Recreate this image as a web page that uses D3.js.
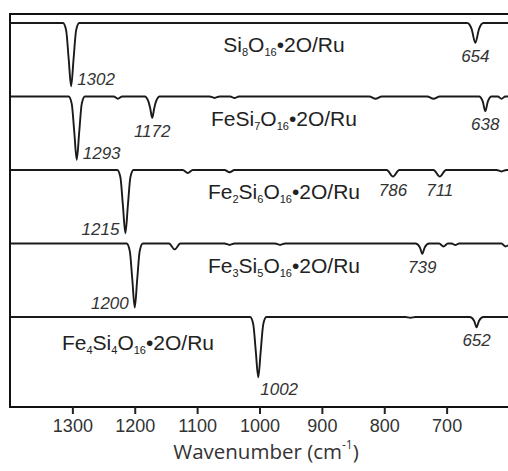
<!DOCTYPE html>
<html>
<head>
<meta charset="utf-8">
<script src="https://cdn.jsdelivr.net/npm/d3@7"></script>
<style>
  body { margin: 0; background: #fff; }
  svg { display: block; }
  .axis text { font-family: "Liberation Sans", Arial, sans-serif; font-size: 18px; fill: #333; }
  .axis line { stroke: #222; stroke-width: 2; }
  .compound { font-family: "Liberation Sans", Arial, sans-serif; font-size: 21px; fill: #222; }
  .peak-label { font-family: "Liberation Sans", Arial, sans-serif; font-size: 17px; font-style: italic; fill: #333; }
  .spectrum { fill: none; stroke: #1a1a1a; stroke-width: 1.9; }
</style>
</head>
<body>
<div id="chart"></div>
<script>
// Tick values on the wavenumber axis
const wavenumberTicks = [1300, 1200, 1100, 1000, 900, 800, 700];

// Compound names, "_n" marks a subscript
const compounds = [
    "Si_8O_16•2O/Ru",
    "FeSi_7O_16•2O/Ru",
    "Fe_2Si_6O_16•2O/Ru",
    "Fe_3Si_5O_16•2O/Ru",
    "Fe_4Si_4O_16•2O/Ru"
];

// Spectra: [wavenumber (cm-1), dip depth (arb. units)], top panel first
const si8Spectrum = [
    [1400, 0], [1315, 0], [1310, 10], [1306, 48], [1302, 86], [1298, 48], [1294, 10], [1289, 0],
    [667, 0], [660, 8], [654, 27], [648, 8], [641, 0], [600, 0]
];
const fe1Spectrum = [
    [1400, 0], [1306, 0], [1301, 10], [1297, 48], [1293, 86], [1289, 48], [1285, 10], [1280, 0],
    [1234, 0], [1227, 3], [1220, 0],
    [1184, 0], [1178, 7], [1175, 17], [1172, 29], [1169, 17], [1166, 7], [1160, 0],
    [1080, 0], [1072, 2], [1064, 0], [1047, 0], [1040, 2], [1033, 0],
    [824, 0], [814, 3], [804, 0], [731, 0], [721, 3], [711, 0],
    [648, 0], [642, 7], [638, 20], [634, 7], [628, 0],
    [618, 0], [612, 3], [606, 0], [600, 0]
];
const fe2Spectrum = [
    [1400, 0], [1228, 0], [1223, 10], [1219, 48], [1215, 86], [1211, 48], [1207, 10], [1202, 0],
    [1123, 0], [1115, 4], [1107, 0], [1056, 0], [1048, 3], [1040, 0],
    [796, 0], [786, 9], [776, 0], [721, 0], [711, 9], [701, 0],
    [620, 0], [612, 2], [604, 0], [600, 0]
];
const fe3Spectrum = [
    [1400, 0], [1213, 0], [1208, 10], [1204, 48], [1200, 87], [1196, 48], [1192, 10], [1187, 0],
    [1145, 0], [1136, 8], [1127, 0], [1056, 0], [1048, 2], [1040, 0], [975, 0], [967, 2], [959, 0],
    [750, 0], [743, 5], [739, 14], [735, 5], [728, 0],
    [712, 0], [705, 4], [698, 0], [692, 0], [686, 2], [680, 0],
    [612, 0], [606, 4], [600, 2]
];
const fe4Spectrum = [
    [1400, 0], [1015, 0], [1010, 10], [1006, 46], [1002, 82], [998, 46], [994, 10], [989, 0],
    [766, 0], [758, 1], [750, 0],
    [663, 0], [656, 5], [652, 14], [648, 5], [641, 0], [600, 0]
];
const spectra = [si8Spectrum, fe1Spectrum, fe2Spectrum, fe3Spectrum, fe4Spectrum];

// Peak annotations: [panel index, wavenumber, side of the label]
const peakLabels = [
    [0, 1302, "right"], [0, 654, "below"],
    [1, 1293, "right"], [1, 1172, "below"], [1, 638, "below"],
    [2, 1215, "left"], [2, 786, "below"], [2, 711, "below"],
    [3, 1200, "left"], [3, 739, "below"],
    [4, 1002, "belowRight"], [4, 652, "below"]
];

const width = 508, height = 471;
const frame = { left: 10, top: 14, right: 509, bottom: 407 };

const svg = d3.select('#chart').append('svg')
    .attr('width', width)
    .attr('height', height);

// Scales
const x = d3.scaleLinear()
    .domain([1400, 600])
    .range([frame.left, frame.right]);

const panelY = d3.scalePoint()
    .domain(d3.range(compounds.length))
    .range([23, 317]);

const depth = d3.scaleLinear()
    .domain([0, 100])
    .range([0, 73.5]);

// Spectra
spectra.forEach((pts, i) => {
    const line = d3.line()
        .x(d => x(d[0]))
        .y(d => panelY(i) + depth(d[1]))
        .curve(d3.curveMonotoneX);
    svg.append('path')
        .attr('class', 'spectrum')
        .attr('d', line(pts));
});

// Frame (right edge falls outside the picture)
svg.append('rect')
    .attr('x', frame.left)
    .attr('y', frame.top)
    .attr('width', frame.right - frame.left + 4)
    .attr('height', frame.bottom - frame.top)
    .attr('fill', 'none')
    .attr('stroke', '#111')
    .attr('stroke-width', 2);

// X axis
const axis = svg.append('g')
    .attr('class', 'axis')
    .attr('transform', `translate(0, ${frame.bottom})`)
    .call(d3.axisBottom(x).tickValues(wavenumberTicks).tickSize(7).tickPadding(5).tickFormat(d3.format('d')));
axis.select('.domain').remove();

// Axis title
const title = svg.append('text')
    .attr('x', 266)
    .attr('y', 459)
    .attr('text-anchor', 'middle')
    .style('font-family', '"Open Sans", sans-serif')
    .style('font-size', '20.5px')
    .style('fill', '#333');
title.append('tspan').text('Wavenumber (cm');
title.append('tspan').attr('dy', -10).style('font-size', '12px').text('-1');
title.append('tspan').attr('dy', 10).text(')');

// Compound names with subscripts
compounds.forEach((name, i) => {
    const t = svg.append('text')
        .attr('class', 'compound')
        .attr('x', i === 4 ? 138 : 284)
        .attr('y', panelY(i) + (i === 4 ? 33 : 29))
        .attr('text-anchor', 'middle');
    let lowered = false;
    name.split(/(_\d+)/).filter(s => s.length).forEach(part => {
        if (part[0] === '_') {
            t.append('tspan').attr('dy', lowered ? 0 : 4).style('font-size', '11px').text(part.slice(1));
            lowered = true;
        } else {
            t.append('tspan').attr('dy', lowered ? -4 : 0).text(part);
            lowered = false;
        }
    });
});

// Peak labels
peakLabels.forEach(([panel, wn, side]) => {
    const tip = spectra[panel].find(p => p[0] === wn);
    const px = x(wn);
    const py = panelY(panel) + depth(tip[1]);
    const t = svg.append('text')
        .attr('class', 'peak-label')
        .text(wn);
    if (side === 'right') {
        t.attr('x', px + 6).attr('y', py - 1).attr('text-anchor', 'start');
    } else if (side === 'left') {
        t.attr('x', px - 6).attr('y', py + 2).attr('text-anchor', 'end');
    } else if (side === 'belowRight') {
        t.attr('x', px + 2).attr('y', py + 18).attr('text-anchor', 'start');
    } else {
        t.attr('x', px).attr('y', py + 19).attr('text-anchor', 'middle');
    }
});
</script>
</body>
</html>
